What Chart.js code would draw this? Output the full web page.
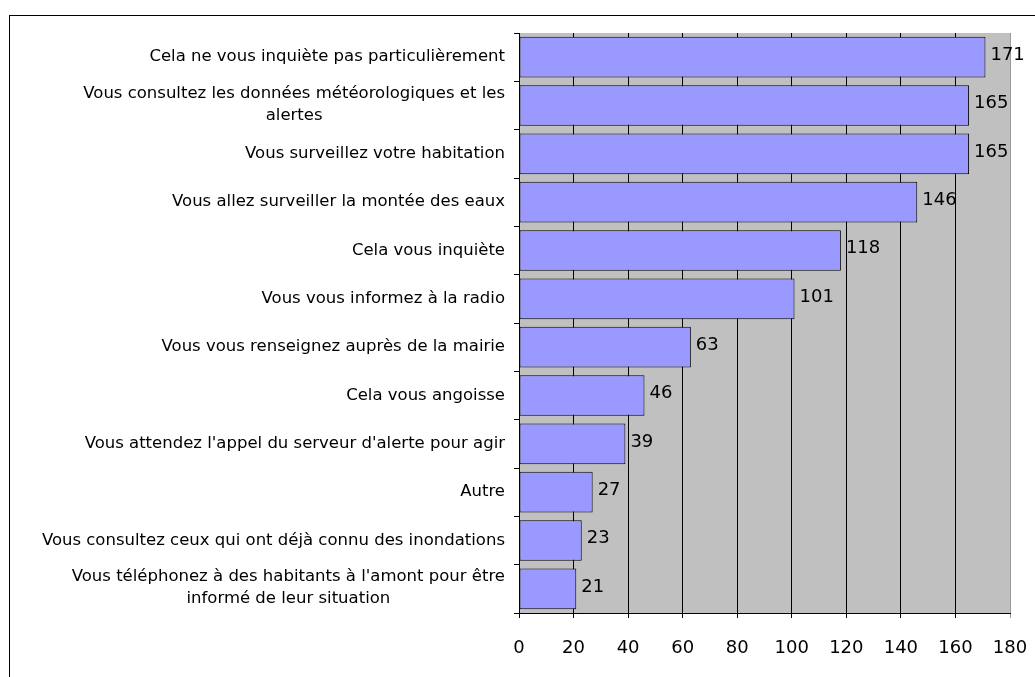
<!DOCTYPE html>
<html lang="fr">
<head>
<meta charset="utf-8">
<title>Réactions face au risque d'inondation</title>
<script src="https://cdn.jsdelivr.net/npm/chart.js@4.4.1/dist/chart.umd.min.js"></script>
<style>
    html, body { margin: 0; padding: 0; background: #fff; }
    #cadre {
        position: absolute;
        left: 9px;
        top: 15px;
        right: 0;
        bottom: 0;
        border-left: 1px solid #000;
        border-top: 1px solid #000;
    }
    #zone { position: absolute; left: 0; top: 0; width: 1035px; height: 677px; }
</style>
</head>
<body>
<div id="cadre"></div>
<div id="zone"><canvas id="graphique"></canvas></div>
<script>
// Réponses (libellés sur une ou deux lignes)
const reponses = [
    ['Cela ne vous inquiète pas particulièrement'],
    ['Vous consultez les données météorologiques et les', 'alertes'],
    ['Vous surveillez votre habitation'],
    ['Vous allez surveiller la montée des eaux'],
    ['Cela vous inquiète'],
    ['Vous vous informez à la radio'],
    ['Vous vous renseignez auprès de la mairie'],
    ['Cela vous angoisse'],
    ['Vous attendez l\'appel du serveur d\'alerte pour agir'],
    ['Autre'],
    ['Vous consultez ceux qui ont déjà connu des inondations'],
    ['Vous téléphonez à des habitants à l\'amont pour être', 'informé de leur situation']
]
const nombres = [171, 165, 165, 146, 118, 101, 63, 46, 39, 27, 23, 21]
const axeMin = 0
const axeMax = 180
const axePas = 20

const police = '"DejaVu Sans", Verdana, sans-serif'

// Libellés de l'axe vertical : bloc aligné à droite, lignes centrées entre elles
const libellesReponses = {
    id: 'libellesReponses',
    afterDraw(chart) {
        const ctx = chart.ctx
        const echelle = chart.scales.y
        const bordDroit = chart.chartArea.left - 14
        const interligne = 22
        ctx.save()
        ctx.font = '16.5px ' + police
        ctx.fillStyle = '#000'
        ctx.textAlign = 'center'
        ctx.textBaseline = 'middle'
        reponses.forEach((lignes, i) => {
            const largeur = Math.max(...lignes.map(l => ctx.measureText(l).width))
            const centreX = bordDroit - largeur / 2
            let y0 = echelle.getPixelForValue(i) - (lignes.length - 1) * interligne / 2
            if (lignes.length > 1) y0 -= 1
            lignes.forEach((l, k) => {
                ctx.fillText(l, centreX, y0 + k * interligne)
            })
        })
        ctx.restore()
    }
}

// Valeur écrite au bout de chaque barre
const valeursBarres = {
    id: 'valeursBarres',
    afterDatasetsDraw(chart) {
        const ctx = chart.ctx
        const barres = chart.getDatasetMeta(0).data
        ctx.save()
        ctx.font = '18px ' + police
        ctx.fillStyle = '#000'
        ctx.textAlign = 'left'
        ctx.textBaseline = 'middle'
        barres.forEach((barre, i) => {
            ctx.fillText(String(nombres[i]), barre.x + 5, barre.y - 2)
        })
        ctx.restore()
    }
}

// Fond gris de la zone de tracé
const fondGris = {
    id: 'fondGris',
    beforeDraw(chart) {
        const { ctx, chartArea } = chart
        ctx.save()
        ctx.fillStyle = '#c0c0c0'
        ctx.fillRect(chartArea.left, chartArea.top, chartArea.right - chartArea.left, chartArea.bottom - chartArea.top)
        ctx.restore()
    }
}

const ctx = document.getElementById('graphique').getContext('2d')
new Chart(ctx, {
    type: 'bar',
    data: {
        labels: reponses.map(l => l.join(' ')),
        datasets: [{
            label: 'Réponses',
            data: nombres,
            backgroundColor: '#9999ff',
            borderColor: '#000',
            borderWidth: 1,
            borderSkipped: false,
            categoryPercentage: 1,
            barPercentage: 0.84
        }]
    },
    options: {
        indexAxis: 'y',
        responsive: true,
        maintainAspectRatio: false,
        animation: false,
        layout: {
            padding: { top: 33, right: 25, bottom: 0, left: 0 }
        },
        plugins: {
            legend: { display: false },
            tooltip: { enabled: false }
        },
        scales: {
            x: {
                min: axeMin,
                max: axeMax,
                afterFit: (s) => {
                    s.height = 64
                    s.paddingLeft = 0
                    s.paddingRight = 0
                },
                ticks: {
                    stepSize: axePas,
                    color: '#000',
                    padding: 20,
                    font: { family: police, size: 18 }
                },
                grid: {
                    color: (c) => c.tick && c.tick.value === axeMax ? '#9a9a9a' : '#000',
                    lineWidth: 1,
                    tickLength: 5
                },
                border: { color: '#000', width: 1 }
            },
            y: {
                afterFit: (s) => { s.width = 519 },
                ticks: { display: false },
                grid: {
                    drawOnChartArea: false,
                    color: '#000',
                    tickLength: 5,
                    offset: true
                },
                border: { color: '#000', width: 1 }
            }
        }
    },
    plugins: [fondGris, libellesReponses, valeursBarres]
})
</script>
</body>
</html>
